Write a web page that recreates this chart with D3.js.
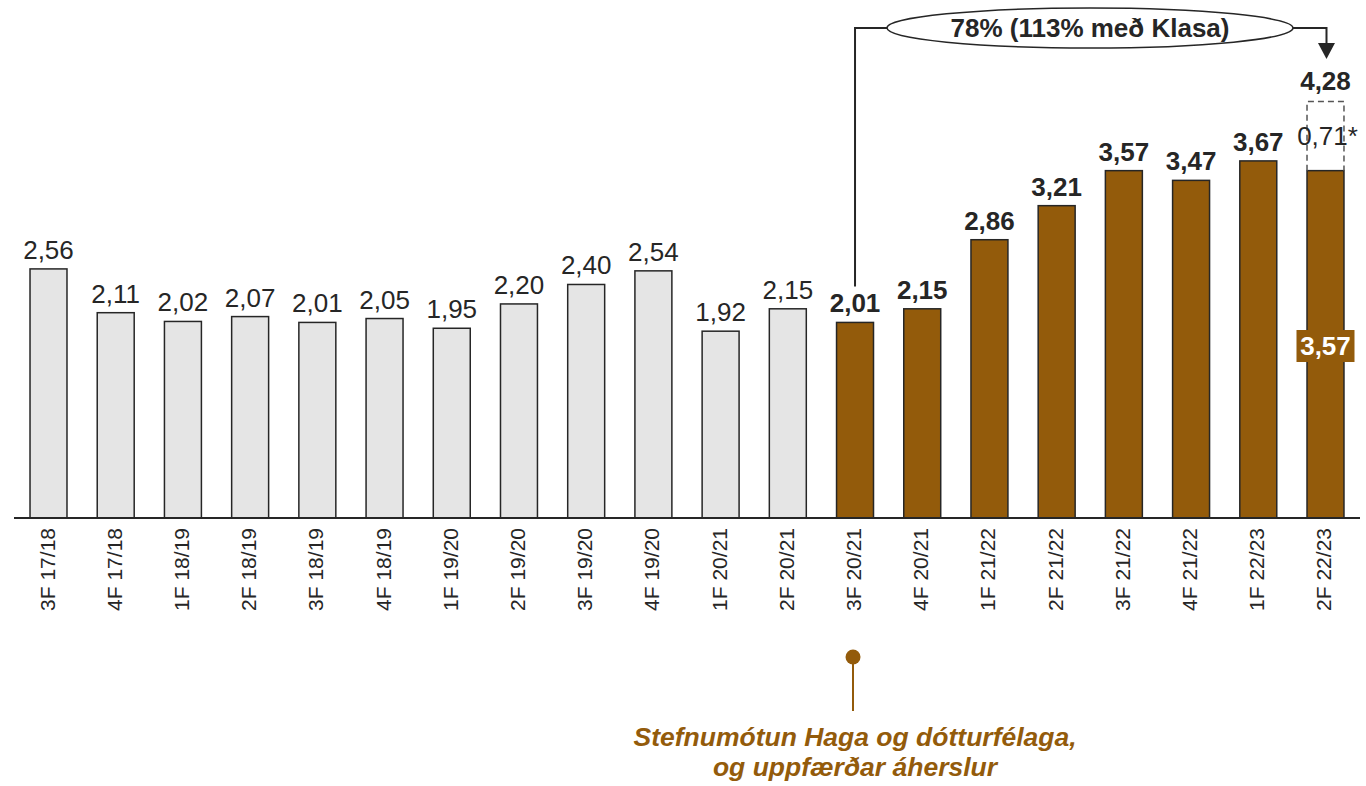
<!DOCTYPE html>
<html>
<head>
<meta charset="utf-8">
<script src="https://cdn.jsdelivr.net/npm/d3@7"></script>
<style>
  body { margin: 0; background: #fff; }
  text { font-family: "Liberation Sans", Arial, sans-serif; }
</style>
</head>
<body>
<svg id="chart" width="1366" height="786"></svg>
<script>
// gögn
const quarters = ["3F 17/18","4F 17/18","1F 18/19","2F 18/19","3F 18/19","4F 18/19","1F 19/20","2F 19/20","3F 19/20","4F 19/20","1F 20/21","2F 20/21","3F 20/21","4F 20/21","1F 21/22","2F 21/22","3F 21/22","4F 21/22","1F 22/23","2F 22/23"];
const values = [2.56,2.11,2.02,2.07,2.01,2.05,1.95,2.20,2.40,2.54,1.92,2.15,2.01,2.15,2.86,3.21,3.57,3.47,3.67,3.57];
const highlightFrom = 12; // 3F 20/21
const klasiExtra = 0.71;
const totalLast = 4.28;
const growthLabel = "78% (113% með Klasa)";
const noteLines = ["Stefnumótun Haga og dótturfélaga,", "og uppfærðar áherslur"];

const brown = "#935b0b";
const gray = "#e5e5e5";
const dark = "#262626";
const fmt = v => v.toFixed(2).replace(".", ",");

const svg = d3.select("#chart");
const baseY = 518;

const x = d3.scaleBand()
    .domain(quarters)
    .range([14.9, 1359.1])
    .paddingInner(0.45)
    .paddingOuter(0.225);

const y = d3.scaleLinear().domain([0, 1]).range([baseY, baseY - 97.3]);

const data = quarters.map((q, i) => ({ q, v: values[i], hi: i >= highlightFrom, i }));

// súlur
svg.append("g").selectAll("rect")
    .data(data)
    .join("rect")
    .attr("x", d => x(d.q))
    .attr("y", d => y(d.v))
    .attr("width", x.bandwidth())
    .attr("height", d => y(0) - y(d.v))
    .attr("fill", d => d.hi ? brown : gray)
    .attr("stroke", dark)
    .attr("stroke-width", 1.5);

// gildi ofan á súlum
const last = data[data.length - 1];
svg.append("g").selectAll("text")
    .data(data.filter(d => d !== last))
    .join("text")
    .attr("x", d => x(d.q) + x.bandwidth() / 2)
    .attr("y", d => y(d.v) - 10)
    .attr("text-anchor", "middle")
    .attr("font-size", 26)
    .attr("font-weight", d => d.hi ? "bold" : "normal")
    .attr("fill", dark)
    .text(d => fmt(d.v));

// grunnlína
svg.append("line")
    .attr("x1", 14).attr("x2", 1360)
    .attr("y1", baseY).attr("y2", baseY)
    .attr("stroke", dark).attr("stroke-width", 2);

// x-ás merkingar
svg.append("g").selectAll("text")
    .data(quarters)
    .join("text")
    .attr("transform", d => `translate(${x(d) + x.bandwidth() / 2 + 6},${baseY + 10}) rotate(-90)`)
    .attr("text-anchor", "end")
    .attr("font-size", 21)
    .attr("fill", dark)
    .text(d => d);

// síðasta súla: Klasi ofan á
const lx = x(last.q), lw = x.bandwidth(), lcx = lx + lw / 2;
svg.append("path")
    .attr("d", `M${lx},${y(last.v)} V${y(totalLast)} H${lx + lw} V${y(last.v)}`)
    .attr("fill", "none")
    .attr("stroke", "#555")
    .attr("stroke-width", 1.5)
    .attr("stroke-dasharray", "6,4");
svg.append("text")
    .attr("x", lcx + 2).attr("y", y(last.v) - 26)
    .attr("text-anchor", "middle")
    .attr("font-size", 26)
    .attr("fill", dark)
    .text(fmt(klasiExtra) + "*");
svg.append("text")
    .attr("x", lcx).attr("y", y(totalLast) - 12)
    .attr("text-anchor", "middle")
    .attr("font-size", 26)
    .attr("font-weight", "bold")
    .attr("fill", dark)
    .text(fmt(totalLast));

// innra merki síðustu súlu
const innerY = 346;
svg.append("rect")
    .attr("x", lcx - 29).attr("y", innerY - 16)
    .attr("width", 58).attr("height", 32)
    .attr("fill", brown);
svg.append("text")
    .attr("x", lcx).attr("y", innerY + 9)
    .attr("text-anchor", "middle")
    .attr("font-size", 26)
    .attr("font-weight", "bold")
    .attr("fill", "#fff")
    .text(fmt(last.v));

// vaxtarbrú
const startCx = x(quarters[highlightFrom]) + x.bandwidth() / 2;
const topY = 28, ellCx = 1090, ellRx = 203, ellRy = 20;
svg.append("path")
    .attr("d", `M${startCx},${y(values[highlightFrom]) - 36} V${topY} H${ellCx - ellRx}`)
    .attr("fill", "none").attr("stroke", dark).attr("stroke-width", 2);
svg.append("path")
    .attr("d", `M${ellCx + ellRx},${topY} H${lcx + 1} V${46}`)
    .attr("fill", "none").attr("stroke", dark).attr("stroke-width", 2);
svg.append("path")
    .attr("d", `M${lcx - 7.5},${43} L${lcx + 9.5},${43} L${lcx + 1},${59} Z`)
    .attr("fill", dark);
svg.append("ellipse")
    .attr("cx", ellCx).attr("cy", topY)
    .attr("rx", ellRx).attr("ry", ellRy)
    .attr("fill", "#fff").attr("stroke", dark).attr("stroke-width", 1.5);
svg.append("text")
    .attr("x", ellCx).attr("y", topY + 9)
    .attr("text-anchor", "middle")
    .attr("font-size", 26)
    .attr("font-weight", "bold")
    .attr("fill", dark)
    .text(growthLabel);

// athugasemd neðst
svg.append("line")
    .attr("x1", startCx - 2).attr("x2", startCx - 2)
    .attr("y1", 657).attr("y2", 711)
    .attr("stroke", brown).attr("stroke-width", 2);
svg.append("circle")
    .attr("cx", startCx - 2).attr("cy", 657).attr("r", 7.5)
    .attr("fill", brown);
svg.append("g").selectAll("text")
    .data(noteLines)
    .join("text")
    .attr("x", startCx)
    .attr("y", (d, i) => 746 + i * 30)
    .attr("text-anchor", "middle")
    .attr("font-size", 26.5)
    .attr("font-weight", "bold")
    .attr("font-style", "italic")
    .attr("fill", brown)
    .text(d => d);
</script>
</body>
</html>
